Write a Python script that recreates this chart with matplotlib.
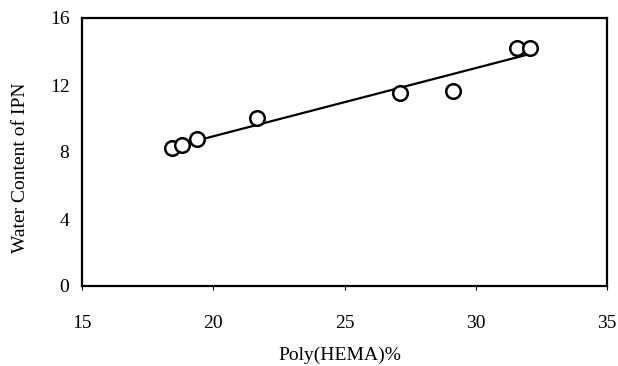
import matplotlib.pyplot as plt
import numpy as np

# Poly(HEMA)% vs water content of IPN
poly_hema = [18.43, 18.81, 19.38, 21.67, 27.11, 29.13, 31.57, 32.07]
water_content = [8.24, 8.42, 8.78, 10.03, 11.52, 11.64, 14.21, 14.21]
x_ticks = [15, 20, 25, 30, 35]
y_ticks = [0, 4, 8, 12, 16]

plt.rcParams['font.family'] = ['Liberation Serif', 'DejaVu Serif']

fig = plt.figure(figsize=(6.18, 3.66), dpi=100)
ax = fig.add_axes([82/618, 1 - 286/366, (607-82)/618, (286-18)/366])

# linear trend line
k, b = np.polyfit(poly_hema, water_content, 1)
xs = np.array([min(poly_hema), max(poly_hema)])
ax.plot(xs, k*xs + b, color='black', lw=1.6, zorder=2)

ax.scatter(poly_hema, water_content, s=110, facecolors='white',
           edgecolors='black', linewidths=1.8, zorder=3)

ax.set_xlim(15, 35)
ax.set_ylim(0, 16)
ax.set_xticks(x_ticks)
ax.set_yticks(y_ticks)
ax.tick_params(axis='both', labelsize=14, length=3, width=0.8, direction='out')
ax.tick_params(axis='x', pad=18)
ax.tick_params(axis='y', pad=9, length=0)
for s in ax.spines.values():
    s.set_linewidth(1.6)

fig.text(340/618, 1 - 355/366, 'Poly(HEMA)%', ha='center', va='center', fontsize=14)
fig.text(21/618, 1 - 168/366, 'Water Content of IPN', ha='center', va='center',
         rotation=90, fontsize=14)

fig.savefig('out.png', dpi=100)
